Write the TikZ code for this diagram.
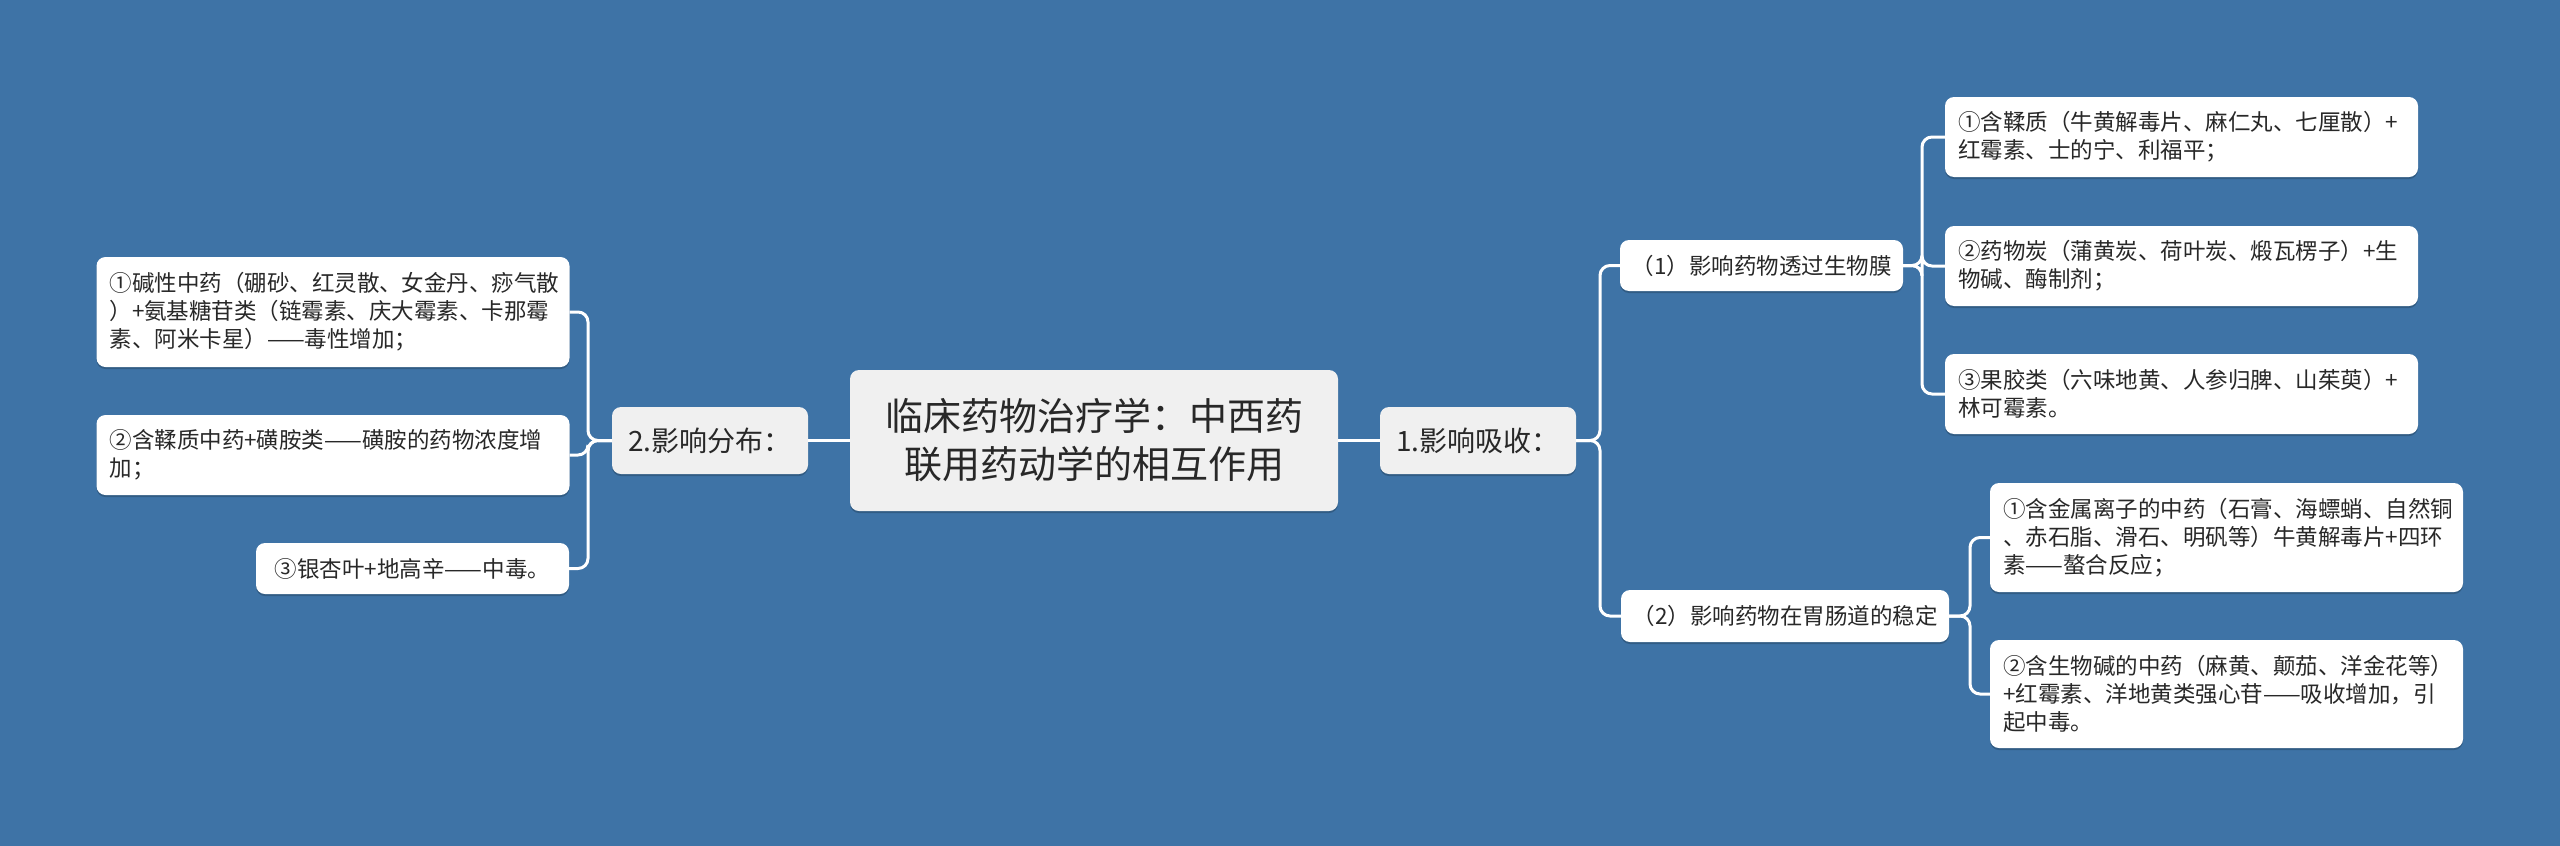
\documentclass[tikz,border=0pt]{standalone}
\usepackage{fontspec}
\newfontfamily\cjk{Noto Sans CJK SC}
\usetikzlibrary{shadows}
\definecolor{bg}{RGB}{62,115,166}
\definecolor{boxgray}{RGB}{240,240,240}
\definecolor{txt}{RGB}{40,40,40}
\hbadness=10000 \hfuzz=40pt
\tikzset{
 box/.style={draw=none, rounded corners=9pt, text=txt, inner sep=0pt,
   drop shadow={shadow xshift=0pt,shadow yshift=-2pt,opacity=0.2,fill=black}},
 leaf/.style={box, fill=white, font=\cjk\fontsize{22.5}{28}\selectfont, align=left,
   text width=447pt, inner xsep=13pt, minimum width=473pt},
 sub/.style={box, fill=white, font=\cjk\fontsize{22.5}{28}\selectfont, align=center},
 lvl/.style={box, fill=boxgray, font=\cjk\fontsize{28}{34}\selectfont, align=center},
 rootbox/.style={box, fill=boxgray, font=\cjk\fontsize{38}{48}\selectfont, align=center},
 conn/.style={draw=white, line width=3pt, rounded corners=10pt},
}
\begin{document}
\begin{tikzpicture}[x=1pt,y=-1pt]
\useasboundingbox (0,0) rectangle (2560,846);
\fill[bg] (0,0) rectangle (2560,846);

% coordinates of trunks
\coordinate (lt) at (588,440.5);
\coordinate (rt) at (1600,440.5);
\coordinate (r1t) at (1922,265.5);
\coordinate (r2t) at (1970,616);

% root and level 1
\node[rootbox, minimum width=488pt, minimum height=141pt] (root) at (1094,440.5)
  {临床药物治疗学：中西药\\联用药动学的相互作用};
\node[lvl, minimum width=196pt, minimum height=67pt] (L) at (710,440.5) {2.影响分布：};
\node[lvl, minimum width=196pt, minimum height=67pt] (R) at (1478,440.5) {1.影响吸收：};

% left leaves
\node[leaf, minimum height=110pt] (A1) at (333,312)
  {\mbox{①碱性中药（硼砂、红灵散、女金丹、痧气散}\\\mbox{）+氨基糖苷类（链霉素、庆大霉素、卡那霉}\\\mbox{素、阿米卡星）——毒性增加；}};
\node[leaf, minimum height=80pt] (A2) at (333,455)
  {\mbox{②含鞣质中药+磺胺类——磺胺的药物浓度增}\\\mbox{加；}};
\node[sub, minimum width=313pt, minimum height=51pt] (A3) at (412.5,568.5)
  {③银杏叶+地高辛——中毒。};

% right level 2
\node[sub, minimum width=283pt, minimum height=51pt] (R1) at (1761.5,265.5)
  {（1）影响药物透过生物膜};
\node[sub, minimum width=328pt, minimum height=52pt] (R2) at (1785,616)
  {（2）影响药物在胃肠道的稳定};

% right leaves
\node[leaf, minimum height=80pt] (B1) at (2181.5,137)
  {\mbox{①含鞣质（牛黄解毒片、麻仁丸、七厘散）+}\\\mbox{红霉素、士的宁、利福平；}};
\node[leaf, minimum height=80pt] (B2) at (2181.5,266)
  {\mbox{②药物炭（蒲黄炭、荷叶炭、煅瓦楞子）+生}\\\mbox{物碱、酶制剂；}};
\node[leaf, minimum height=80pt] (B3) at (2181.5,394)
  {\mbox{③果胶类（六味地黄、人参归脾、山茱萸）+}\\\mbox{林可霉素。}};
\node[leaf, minimum height=109pt] (C1) at (2226.5,537.5)
  {\mbox{①含金属离子的中药（石膏、海螵蛸、自然铜}\\\mbox{、赤石脂、滑石、明矾等）牛黄解毒片+四环}\\\mbox{素——螯合反应；}};
\node[leaf, minimum height=108pt] (C2) at (2226.5,694)
  {\mbox{②含生物碱的中药（麻黄、颠茄、洋金花等）}\\\mbox{+红霉素、洋地黄类强心苷——吸收增加，引}\\\mbox{起中毒。}};

% connectors
\draw[conn] (root.west) -- (L.east);
\draw[conn] (root.east) -- (R.west);
\draw[conn] (L.west) -- (lt) |- (A1.east);
\draw[conn] (L.west) -- (lt) |- (A2.east);
\draw[conn] (L.west) -- (lt) |- (A3.east);
\draw[conn] (R.east) -- (rt) |- (R1.west);
\draw[conn] (R.east) -- (rt) |- (R2.west);
\draw[conn] (R1.east) -- (r1t) |- (B1.west);
\draw[conn] (R1.east) -- (r1t) |- (B2.west);
\draw[conn] (R1.east) -- (r1t) |- (B3.west);
\draw[conn] (R2.east) -- (r2t) |- (C1.west);
\draw[conn] (R2.east) -- (r2t) |- (C2.west);
\end{tikzpicture}
\end{document}
